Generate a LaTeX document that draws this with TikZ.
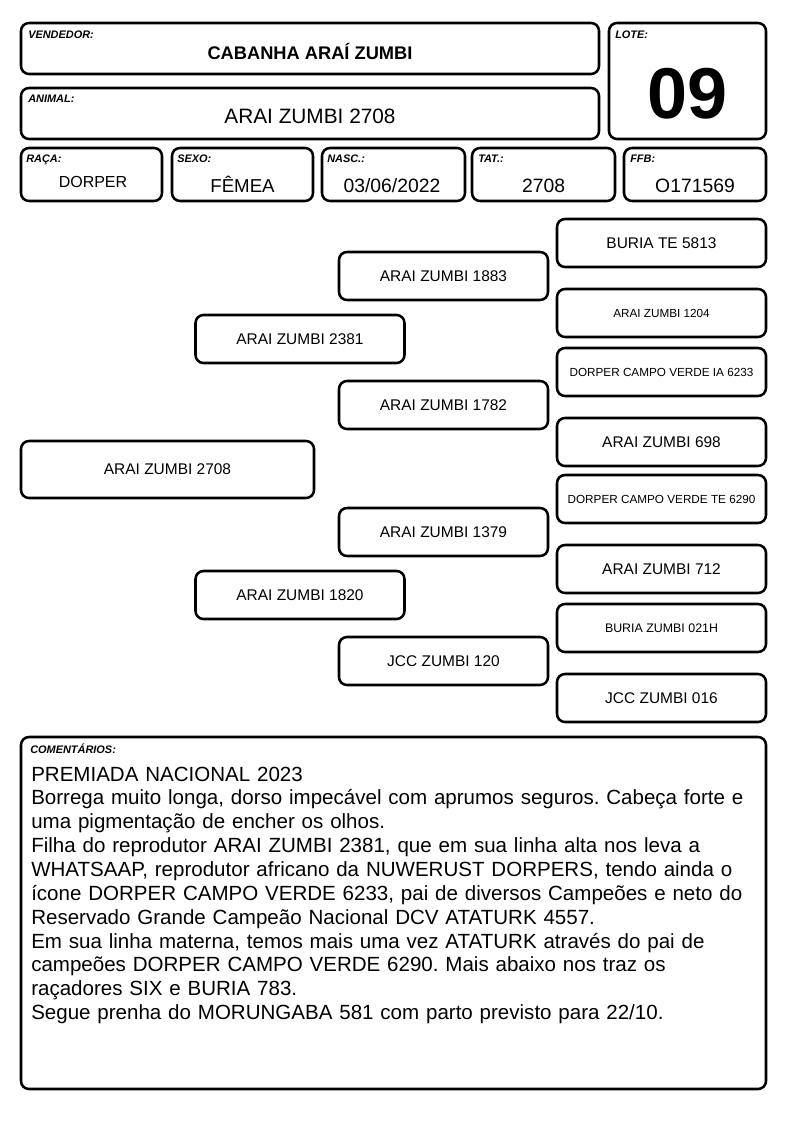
\documentclass[tikz,border=0pt]{standalone}
\usepackage{fontspec}
\setmainfont{Liberation Sans}
\frenchspacing
\begin{document}
\begin{tikzpicture}[x=0.75pt,y=-0.75pt,
    card/.style={draw, line width=1.9pt, rounded corners=6pt, inner sep=0pt},
    tag/.style={font=\bfseries\itshape\fontsize{8.2}{9}\selectfont, anchor=base west, inner sep=0pt},
    val/.style={font=\fontsize{14.5}{16}\selectfont, anchor=base, inner sep=0pt},
    ped/.style={card, minimum width=156.75pt, minimum height=36pt, font=\fontsize{11.6}{13}\selectfont},
    pedsmall/.style={ped, font=\fontsize{8.8}{10}\selectfont}]

\useasboundingbox (0,0) rectangle (794,1123);

% header
\node[card, minimum width=433.5pt, minimum height=38.25pt] (vend) at (310,48.5) {};
\node[card, minimum width=433.5pt, minimum height=38.25pt] (anim) at (310,113.5) {};
\node[card, minimum width=117.75pt, minimum height=87pt] (lote) at (687.5,81) {};
\node[tag] (vendtag) at (28,39) {VENDEDOR:};
\node[tag] (animtag) at (28,103) {ANIMAL:};
\node[tag] (lotetag) at (615,39) {LOTE:};
\node[val, font=\bfseries\fontsize{13.7}{16}\selectfont] (vendval) at (310,59.5) {CABANHA ARAÍ ZUMBI};
\node[val, font=\fontsize{15.6}{18}\selectfont] (animval) at (310,123.5) {ARAI ZUMBI 2708};
\node[val, font=\bfseries\fontsize{54}{60}\selectfont] (loteval) at (687.5,119) {09};

% data row
\node[card, minimum width=105.75pt, minimum height=39.75pt] (raca) at (91.5,174.5) {};
\node[card, minimum width=105.75pt, minimum height=39.75pt] (sexo) at (242.5,174.5) {};
\node[card, minimum width=107.25pt, minimum height=39.75pt] (nasc) at (393.5,174.5) {};
\node[card, minimum width=107.25pt, minimum height=39.75pt] (tat) at (543.5,174.5) {};
\node[card, minimum width=106.5pt, minimum height=39.75pt] (ffb) at (695,174.5) {};
\node[tag] (racatag) at (26,163) {RAÇA:};
\node[tag] (sexotag) at (177,163) {SEXO:};
\node[tag] (nasctag) at (327,163) {NASC.:};
\node[tag] (tattag) at (478,163) {TAT.:};
\node[tag] (ffbtag) at (630,163) {FFB:};
\node[val, font=\fontsize{12}{14}\selectfont] (racaval) at (93,188) {DORPER};
\node[val, font=\fontsize{14}{16}\selectfont] (sexoval) at (242.5,193) {FÊMEA};
\node[val] (nascval) at (392,193) {03/06/2022};
\node[val] (tatval) at (543.5,193) {2708};
\node[val] (ffbval) at (695,193) {O171569};

% pedigree
\node[ped, minimum width=219.75pt, minimum height=42.75pt] (root) at (167.5,469.5) {ARAI ZUMBI 2708};
\node[ped] (sire) at (300,339) {ARAI ZUMBI 2381};
\node[ped] (dam) at (300,595) {ARAI ZUMBI 1820};
\node[ped] (ss) at (443.5,276) {ARAI ZUMBI 1883};
\node[ped] (sd) at (443.5,405) {ARAI ZUMBI 1782};
\node[ped] (ds) at (443.5,532) {ARAI ZUMBI 1379};
\node[ped] (dd) at (443.5,661) {JCC ZUMBI 120};
\node[ped] (sss) at (661.5,243) {BURIA TE 5813};
\node[pedsmall] (ssd) at (661.5,313) {ARAI ZUMBI 1204};
\node[pedsmall] (sds) at (661.5,372) {DORPER CAMPO VERDE IA 6233};
\node[ped] (sdd) at (661.5,442) {ARAI ZUMBI 698};
\node[pedsmall] (dss) at (661.5,499) {DORPER CAMPO VERDE TE 6290};
\node[ped] (dsd) at (661.5,569) {ARAI ZUMBI 712};
\node[pedsmall, font=\fontsize{9.3}{11}\selectfont] (dds) at (661.5,628) {BURIA ZUMBI 021H};
\node[ped] (ddd) at (661.5,698) {JCC ZUMBI 016};

% comments
\node[card, minimum width=558.75pt, minimum height=264pt] (coment) at (393.5,913) {};
\node[tag] (comenttag) at (30,753) {COMENTÁRIOS:};
\node[anchor=base west, inner sep=0pt, align=left, text width=560pt,
      font=\fontsize{15.4}{17.9}\selectfont] (comtext) at (31,781) {\lineskiplimit=-20pt
PREMIADA NACIONAL 2023\\
Borrega muito longa, dorso impecável com aprumos seguros. Cabeça forte e\\
uma pigmentação de encher os olhos.\\
Filha do reprodutor ARAI ZUMBI 2381, que em sua linha alta nos leva a\\
WHATSAAP, reprodutor africano da NUWERUST DORPERS, tendo ainda o\\
ícone DORPER CAMPO VERDE 6233, pai de diversos Campeões e neto do\\
Reservado Grande Campeão Nacional DCV ATATURK 4557.\\
Em sua linha materna, temos mais uma vez ATATURK através do pai de\\
campeões DORPER CAMPO VERDE 6290. Mais abaixo nos traz os\\
raçadores SIX e BURIA 783.\\
Segue prenha do MORUNGABA 581 com parto previsto para 22/10.};
\end{tikzpicture}
\end{document}
